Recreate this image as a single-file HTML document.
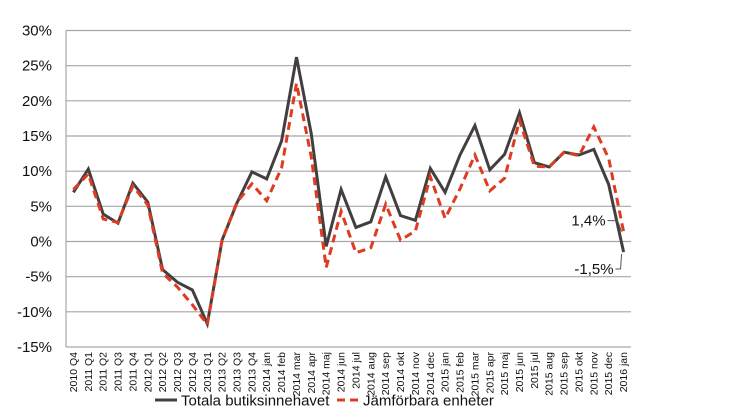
<!DOCTYPE html>
<html><head><meta charset="utf-8"><style>
body{margin:0;background:#fff;}
svg{display:block;font-family:"Liberation Sans",sans-serif;}
</style></head><body>
<svg id="chart" width="746" height="419"></svg>
<script>
const categories=["2010 Q4","2011 Q1","2011 Q2","2011 Q3","2011 Q4","2012 Q1","2012 Q2","2012 Q3","2012 Q4","2013 Q1","2013 Q2","2013 Q3","2013 Q4","2014 jan","2014 feb","2014 mar","2014 apr","2014 maj","2014 jun","2014 jul","2014 aug","2014 sep","2014 okt","2014 nov","2014 dec","2015 jan","2015 feb","2015 mar","2015 apr","2015 maj","2015 jun","2015 jul","2015 aug","2015 sep","2015 okt","2015 nov","2015 dec","2016 jan"];
const totalValues=[7.0,10.3,3.9,2.6,8.3,5.6,-4.0,-5.8,-6.9,-11.7,0.2,5.5,9.9,8.9,14.3,26.2,15.3,-0.7,7.4,2.0,2.8,9.2,3.7,3.0,10.4,7.0,12.3,16.5,10.2,12.4,18.3,11.2,10.6,12.7,12.3,13.1,8.1,-1.5];
const comparableValues=[7.4,9.6,3.2,2.7,7.9,5.2,-4.5,-6.5,-9.0,-11.8,0.2,5.6,8.2,5.8,10.5,22.5,12.0,-3.7,4.3,-1.6,-0.9,5.3,0.2,1.5,9.2,3.3,7.5,12.3,7.2,9.0,17.2,10.7,10.6,12.7,12.2,16.3,11.8,1.4];
const yTicks=[30,25,20,15,10,5,0,-5,-10,-15];
const yTickLabels=["30%","25%","20%","15%","10%","5%","0%","-5%","-10%","-15%"];
const seriesNames=["Totala butiksinnehavet","Jämförbara enheter"];

const NS="http://www.w3.org/2000/svg";
const svg=document.getElementById("chart");
const x0=66,x1=631,yTop=30.5,yBot=347;
const yMin=-15,yMax=30;
const step=(x1-x0)/categories.length;
function xs(i){return x0+step*(i+0.5);}
function ys(v){return yBot-(v-yMin)/(yMax-yMin)*(yBot-yTop);}
function mk(tag,attrs){const e=document.createElementNS(NS,tag);for(const k in attrs)e.setAttribute(k,attrs[k]);svg.appendChild(e);return e;}

yTicks.forEach((t,i)=>{
  if(t>yMin){const g=mk("line",{x1:x0,x2:x1,y1:ys(t),y2:ys(t),stroke:"#a6a6a6","stroke-width":1.2});
  
  }
  const l=mk("text",{x:52,y:ys(t)+5,"text-anchor":"end","font-size":15,fill:"#111"});
  l.textContent=yTickLabels[i];
  
  
});
const ax=mk("line",{x1:x0,x2:x0,y1:yTop,y2:yBot,stroke:"#a6a6a6","stroke-width":1.2});


const bx=mk("line",{x1:x0,x2:x1,y1:yBot,y2:yBot,stroke:"#a6a6a6","stroke-width":1.2});



categories.forEach((c,i)=>{
  const t=mk("text",{transform:`translate(${xs(i)+3.5},352) rotate(-90)`,"text-anchor":"end","font-size":10.5,fill:"#111"});
  t.textContent=c;
  
  
});

function pts(arr){return arr.map((v,i)=>xs(i).toFixed(1)+","+ys(v).toFixed(1)).join(" ");}
const lineTotal=mk("polyline",{points:pts(totalValues),fill:"none",stroke:"#433f3f","stroke-width":3,"stroke-linejoin":"miter"});


const lineComp=mk("polyline",{points:pts(comparableValues),fill:"none",stroke:"#dd3c22","stroke-width":3,"stroke-dasharray":"8,5"});



const n=categories.length-1;
function fmt(v){return v.toFixed(1).replace(".",",")+"%";}
const lc=mk("text",{x:xs(n)-18,y:ys(comparableValues[n])-6,"text-anchor":"end","font-size":15,fill:"#111"});
lc.textContent=fmt(comparableValues[n]);


const lcl=mk("path",{d:`M${xs(n)-16},${ys(comparableValues[n])-11} L${xs(n)-6},${ys(comparableValues[n])-11} L${xs(n)-2},${ys(comparableValues[n])}`,fill:"none",stroke:"#555","stroke-width":1});


const lt=mk("text",{x:xs(n)-10,y:ys(totalValues[n])+22,"text-anchor":"end","font-size":15,fill:"#111"});
lt.textContent=fmt(totalValues[n]);


const ltl=mk("path",{d:`M${xs(n)-8},${ys(totalValues[n])+17} L${xs(n)-3},${ys(totalValues[n])+17} L${xs(n)-2},${ys(totalValues[n])+2}`,fill:"none",stroke:"#555","stroke-width":1});



const lg1=mk("line",{x1:155,x2:177,y1:400,y2:400,stroke:"#433f3f","stroke-width":3});


const lt1=mk("text",{x:181,y:405.5,"font-size":15,fill:"#111"});
lt1.textContent=seriesNames[0];


const lg2=mk("line",{x1:337,x2:359,y1:400,y2:400,stroke:"#dd3c22","stroke-width":3,"stroke-dasharray":"8,5"});


const lt2=mk("text",{x:363,y:405.5,"font-size":15,fill:"#111"});
lt2.textContent=seriesNames[1];


</script>
</body></html>
